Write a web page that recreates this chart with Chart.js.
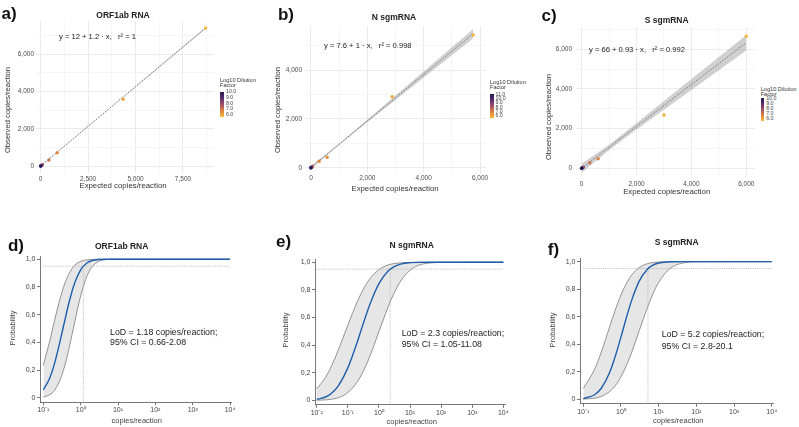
<!DOCTYPE html>
<html>
<head>
<meta charset="utf-8">
<script src="https://cdn.jsdelivr.net/npm/chart.js@4.4.1/dist/chart.umd.min.js"></script>
<style>
  body { margin: 0; background: #fff; }
  #wrap { position: relative; width: 799px; height: 427px; overflow: hidden;
          font-family: "Liberation Sans", Arial, sans-serif; color: #222; }
  canvas { position: absolute; }
  .t { position: absolute; white-space: pre; line-height: 1; }
</style>
</head>
<body>
<div id="wrap"></div>
<script>
// ---- calibration panels (a-c): expected vs observed copies/reaction ----
const expA = [8700, 4350, 870, 435, 87, 43.5, 8.7, 4.35, 0.87];
const obsA = [7417, 3583, 711, 321, 70, 35, 8, 4, 1];
const dilA = [6.0, 6.3, 7.0, 7.3, 8.0, 8.3, 9.0, 9.3, 10.0];
const fitXA = [0, 1000, 2500, 4000, 5500, 7000, 8700];
const fitYA = [5, 857, 2135, 3413, 4691, 5969, 7417];
const hiA   = [20, 867, 2147, 3431, 4717, 6003, 7459];
const loA   = [-10, 847, 2123, 3395, 4665, 5935, 7375];

const expB = [5760, 2880, 576, 288, 57.6, 28.8, 5.76, 2.88, 0.576, 0.0576];
const obsB = [5439, 2910, 426, 262, 62, 30, 6, 3, 1, 0];
const dilB = [6.0, 6.3, 7.0, 7.3, 8.0, 8.3, 9.0, 9.3, 10.0, 11.0];
const fitXB = [0, 1000, 2000, 3000, 4000, 5000, 5760];
const fitYB = [8, 961, 1914, 2867, 3820, 4773, 5497];
const hiB   = [58, 996, 1969, 2957, 3945, 4933, 5687];
const loB   = [-42, 926, 1859, 2777, 3695, 4613, 5307];

const expC = [6000, 3000, 600, 300, 60, 30, 6, 3, 0.6];
const obsC = [6650, 2685, 484, 282, 55, 28, 6, 3, 1];
const dilC = [6.0, 6.3, 7.0, 7.3, 8.0, 8.3, 9.0, 9.3, 10.0];
const fitXC = [0, 1000, 2000, 3000, 4000, 5000, 6000];
const fitYC = [0, 1055, 2110, 3165, 4220, 5275, 6330];
const hiC   = [230, 1185, 2270, 3385, 4500, 5610, 6720];
const loC   = [-230, 925, 1950, 2945, 3940, 4940, 5940];

// tick / grid values
const xMajorA = [0, 2500, 5000, 7500];
const xGridA  = [0, 1250, 2500, 3750, 5000, 6250, 7500, 8750];
const yMajorA = [0, 2000, 4000, 6000];
const yGridA  = [0, 1000, 2000, 3000, 4000, 5000, 6000, 7000];
const xMajorB = [0, 2000, 4000, 6000];
const xGridB  = [0, 1000, 2000, 3000, 4000, 5000, 6000];
const yMajorB = [0, 2000, 4000];
const yGridB  = [0, 1000, 2000, 3000, 4000, 5000];
const xMajorC = [0, 2000, 4000, 6000];
const xGridC  = [0, 1000, 2000, 3000, 4000, 5000, 6000];
const yMajorC = [0, 2000, 4000, 6000];
const yGridC  = [0, 1000, 2000, 3000, 4000, 5000, 6000, 7000];

// ---- LoD probit panels (d-f) ----
const xD  = [0.1, 0.15, 0.2, 0.3, 0.4, 0.5, 0.7, 1, 1.5, 2, 3, 5, 10, 100, 1000, 10000];
const pD  = [0.056, 0.145, 0.248, 0.441, 0.590, 0.699, 0.832, 0.924, 0.975, 0.990, 0.998, 1, 1, 1, 1, 1];
const hiD = [0.234, 0.414, 0.558, 0.743, 0.845, 0.902, 0.957, 0.985, 0.996, 0.999, 1, 1, 1, 1, 1, 1];
const loD = [0.005, 0.022, 0.054, 0.148, 0.259, 0.368, 0.552, 0.735, 0.883, 0.944, 0.984, 0.998, 1, 1, 1, 1];

const xE  = [0.01, 0.02, 0.03, 0.05, 0.1, 0.2, 0.3, 0.5, 1, 2, 3, 5, 10, 20, 50, 100, 1000, 10000];
const pE  = [0.007, 0.026, 0.051, 0.107, 0.235, 0.421, 0.543, 0.689, 0.845, 0.938, 0.967, 0.987, 0.997, 0.9995, 1, 1, 1, 1];
const hiE = [0.082, 0.174, 0.25, 0.367, 0.544, 0.713, 0.796, 0.877, 0.947, 0.981, 0.990, 0.996, 0.999, 1, 1, 1, 1, 1];
const loE = [0.001, 0.0035, 0.008, 0.019, 0.056, 0.133, 0.202, 0.314, 0.497, 0.68, 0.772, 0.864, 0.942, 0.980, 0.996, 0.999, 1, 1];

const xF  = [0.1, 0.2, 0.3, 0.5, 0.7, 1, 1.5, 2, 3, 5, 7, 10, 20, 50, 100, 1000, 10000];
const pF  = [0.005, 0.033, 0.080, 0.195, 0.309, 0.453, 0.624, 0.733, 0.855, 0.945, 0.975, 0.990, 0.999, 1, 1, 1, 1];
const hiF = [0.079, 0.219, 0.343, 0.526, 0.646, 0.758, 0.858, 0.909, 0.956, 0.985, 0.9935, 0.9975, 1, 1, 1, 1, 1];
const loF = [0.001, 0.008, 0.021, 0.056, 0.097, 0.163, 0.265, 0.353, 0.492, 0.665, 0.765, 0.849, 0.950, 0.993, 0.999, 1, 1];

const lodD = 1.18, lodE = 2.3, lodF = 5.2;
const probTicks = [0, 0.2, 0.4, 0.6, 0.8, 1.0];
const decadesD = [0.1, 1, 10, 100, 1000, 10000];
const decadesE = [0.01, 0.1, 1, 10, 100, 1000, 10000];

// colour scale for log10 dilution (yellow -> dark purple)
const palette = ['#f6b93b', '#dd8440', '#a35068', '#5c2e70', '#221a55'];

Chart.defaults.font.family = '"Liberation Sans", Arial, sans-serif';
const wrap = document.getElementById('wrap');

function hexRgb(h) {
  return [1, 3, 5].map(i => parseInt(h.substr(i, 2), 16));
}
function dilColor(v, lo, hi) {
  const t = Math.max(0, Math.min(1, (v - lo) / (hi - lo))) * (palette.length - 1);
  const i = Math.min(Math.floor(t), palette.length - 2);
  const f = t - i;
  const a = hexRgb(palette[i]), b = hexRgb(palette[i + 1]);
  const c = a.map((x, k) => Math.round(x + (b[k] - x) * f));
  return `rgb(${c[0]},${c[1]},${c[2]})`;
}

function addCanvas(left, top, w, h) {
  const c = document.createElement('canvas');
  c.width = w; c.height = h;
  c.style.left = left + 'px'; c.style.top = top + 'px';
  c.style.width = w + 'px'; c.style.height = h + 'px';
  wrap.appendChild(c);
  return c;
}

// text helper: align 'c' = centred on (x,y), 'l' = left edge at x, centred on y
function addText(txt, x, y, size, opts = {}) {
  const d = document.createElement('div');
  d.className = 't';
  d.textContent = txt;
  d.style.left = x + 'px';
  d.style.top = y + 'px';
  d.style.fontSize = size + 'px';
  if (opts.bold) d.style.fontWeight = 'bold';
  d.style.color = opts.color || '#222';
  let tf = opts.align === 'l' ? 'translate(0,-50%)' : 'translate(-50%,-50%)';
  if (opts.rot) tf += ' rotate(-90deg)';
  d.style.transform = tf;
  wrap.appendChild(d);
}

function colorBar(x, y, w, h, lo, hi, labels, titleY) {
  addText('Log10 Dilution', x, titleY, 5.6, { align: 'l', color: '#333' });
  addText('Factor', x, titleY + 5, 5.6, { align: 'l', color: '#333' });
  const bar = document.createElement('div');
  bar.style.cssText = `position:absolute;left:${x}px;top:${y}px;width:${w}px;height:${h}px;` +
    `background:linear-gradient(to bottom, ${palette.slice().reverse().join(',')});`;
  wrap.appendChild(bar);
  labels.forEach(v => {
    const ly = y + 0.6 + (hi - v) / (hi - lo) * (h - 2.5);
    addText(v.toFixed(1), x + w + 2, ly, 5.2, { align: 'l', color: '#444' });
  });
}

function calibPanel(p) {
  const c = addCanvas(p.left, p.top, p.w, p.h);
  const pts = p.exp.map((x, i) => ({ x, y: p.obs[i] }));
  const line = ys => p.fitX.map((x, i) => ({ x, y: ys[i] }));
  const gridCol = majors => ctx => (ctx.tick && majors.includes(ctx.tick.value)) ? '#e3e3e3' : '#f1f1f1';
  new Chart(c, {
    type: 'scatter',
    data: {
      datasets: [
        { data: pts, pointRadius: 1.7, pointBorderWidth: 0,
          pointBackgroundColor: p.dil.map(v => dilColor(v, p.dilLo, p.dilHi)) },
        { data: line(p.fitY), showLine: true, pointRadius: 0, borderColor: '#6a6a6a',
          borderWidth: 0.9, borderDash: [1.5, 1.5] },
        { data: line(p.hi), showLine: true, pointRadius: 0, borderWidth: 0,
          fill: '+1', backgroundColor: 'rgba(150,150,150,0.45)' },
        { data: line(p.lo), showLine: true, pointRadius: 0, borderWidth: 0 }
      ]
    },
    options: {
      responsive: false,
      animation: false,
      layout: { padding: { top: p.padTop, right: p.padRight, left: 0, bottom: 0 } },
      plugins: { legend: { display: false }, tooltip: { enabled: false },
                 filler: { drawTime: 'beforeDatasetsDraw' } },
      scales: {
        x: {
          type: 'linear', min: p.xMin, max: p.xMax,
          afterBuildTicks: s => { s.ticks = p.xGrid.map(v => ({ value: v })); },
          afterFit: s => { s.height = p.xAxisH; },
          ticks: { autoSkip: false, maxRotation: 0, padding: p.xPad, color: '#4d4d4d',
                   font: { size: 6.5 },
                   callback: v => p.xMajor.includes(v) ? v.toLocaleString('en-US') : '' },
          grid: { drawTicks: false, color: gridCol(p.xMajor), lineWidth: 0.7 },
          border: { display: false }
        },
        y: {
          type: 'linear', min: p.yMin, max: p.yMax,
          afterBuildTicks: s => { s.ticks = p.yGrid.map(v => ({ value: v })); },
          afterFit: s => { s.width = p.yAxisW; },
          ticks: { autoSkip: false, padding: p.yPad, color: '#4d4d4d', font: { size: 6.5 },
                   callback: v => p.yMajor.includes(v) ? v.toLocaleString('en-US') : '' },
          grid: { drawTicks: false, color: gridCol(p.yMajor), lineWidth: 0.7 },
          border: { display: false }
        }
      }
    }
  });
}

const supMap = { '-': '\u207B', '0': '\u2070', '1': '\u00B9', '2': '\u00B2', '3': '\u00B3', '4': '\u2074' };
function decadeLabel(v) {
  const e = String(Math.round(Math.log10(v)));
  return '10' + e.split('').map(ch => supMap[ch]).join('');
}

function lodPanel(p) {
  const c = addCanvas(p.left, p.top, p.w, p.h);
  const xy = ys => p.x.map((x, i) => ({ x, y: ys[i] }));
  new Chart(c, {
    type: 'scatter',
    data: {
      datasets: [
        { data: xy(p.p), showLine: true, pointRadius: 0, borderColor: '#1f5eaa',
          borderWidth: 1.4, cubicInterpolationMode: 'monotone' },
        { data: [{ x: p.x[0], y: 0.95 }, { x: 10000, y: 0.95 }], showLine: true, pointRadius: 0,
          borderColor: '#a8a8a8', borderWidth: 0.8, borderDash: [1, 1.2] },
        { data: [{ x: p.lod, y: 0.95 }, { x: p.lod, y: p.yMin }], showLine: true, pointRadius: 0,
          borderColor: '#a8a8a8', borderWidth: 0.8, borderDash: [1, 1.2] },
        { data: xy(p.hi), showLine: true, pointRadius: 0, borderColor: '#7a7a7a',
          borderWidth: 0.8, cubicInterpolationMode: 'monotone',
          fill: '+1', backgroundColor: '#e6e6e6' },
        { data: xy(p.lo), showLine: true, pointRadius: 0, borderColor: '#7a7a7a',
          borderWidth: 0.8, cubicInterpolationMode: 'monotone' }
      ]
    },
    options: {
      responsive: false,
      animation: false,
      layout: { padding: { top: p.padTop, right: p.padRight, left: 0, bottom: 0 } },
      plugins: { legend: { display: false }, tooltip: { enabled: false },
                 filler: { drawTime: 'beforeDatasetsDraw' } },
      scales: {
        x: {
          type: 'logarithmic', min: p.xMin, max: p.xMax,
          afterBuildTicks: s => { s.ticks = p.decades.map(v => ({ value: v })); },
          afterFit: s => { s.height = p.xAxisH; },
          ticks: { autoSkip: false, maxRotation: 0, padding: 1, color: '#444',
                   font: { size: 7 }, callback: v => decadeLabel(v) },
          grid: { drawOnChartArea: false, drawTicks: true, tickLength: 3, color: '#555', lineWidth: 0.8 },
          border: { display: true, color: '#555', width: 0.8 }
        },
        y: {
          type: 'linear', min: p.yMin, max: 1.02,
          afterBuildTicks: s => { s.ticks = probTicks.map(v => ({ value: v })); },
          afterFit: s => { s.width = p.yAxisW; },
          ticks: { autoSkip: false, padding: 1.5, color: '#444', font: { size: 7 },
                   callback: v => v === 0 ? '0' : v.toFixed(1).replace('.', ',') },
          grid: { drawOnChartArea: false, drawTicks: true, tickLength: 3, color: '#555', lineWidth: 0.8 },
          border: { display: true, color: '#555', width: 0.8 }
        }
      }
    }
  });
}

// ---- top row ----
calibPanel({ left: 0, top: 0, w: 218, h: 185, padTop: 21, padRight: 3, yAxisW: 36, xAxisH: 12,
  xPad: 2, yPad: 2, xMin: -246, xMax: 9135, yMin: -376, yMax: 7789,
  exp: expA, obs: obsA, dil: dilA, dilLo: 6, dilHi: 10, fitX: fitXA, fitY: fitYA, hi: hiA, lo: loA,
  xMajor: xMajorA, xGrid: xGridA, yMajor: yMajorA, yGrid: yGridA });
calibPanel({ left: 265, top: 0, w: 225, h: 185, padTop: 26, padRight: 2, yAxisW: 40, xAxisH: 12,
  xPad: 1, yPad: 3, xMin: -211, xMax: 6211, yMin: -217, yMax: 5807,
  exp: expB, obs: obsB, dil: dilB, dilLo: 6, dilHi: 11, fitX: fitXB, fitY: fitYB, hi: hiB, lo: loB,
  xMajor: xMajorB, xGrid: xGridB, yMajor: yMajorB, yGrid: yGridB });
calibPanel({ left: 530, top: 0, w: 229, h: 190, padTop: 27, padRight: 2, yAxisW: 47, xAxisH: 14,
  xPad: 4, yPad: 5, xMin: -169, xMax: 6317, yMin: -388, yMax: 7118,
  exp: expC, obs: obsC, dil: dilC, dilLo: 6, dilHi: 10, fitX: fitXC, fitY: fitYC, hi: hiC, lo: loC,
  xMajor: xMajorC, xGrid: xGridC, yMajor: yMajorC, yGrid: yGridC });

// ---- bottom row ----
lodPanel({ left: 0, top: 245, w: 240, h: 182, padTop: 11.5, padRight: 9, yAxisW: 40, xAxisH: 24.7,
  xMin: 0.0816, xMax: 10600, yMin: -0.033, x: xD, p: pD, hi: hiD, lo: loD, lod: lodD, decades: decadesD });
lodPanel({ left: 265, top: 245, w: 245, h: 182, padTop: 14.5, padRight: 5, yAxisW: 50, xAxisH: 22.1,
  xMin: 0.0088, xMax: 11300, yMin: -0.033, x: xE, p: pE, hi: hiE, lo: loE, lod: lodE, decades: decadesE });
lodPanel({ left: 530, top: 245, w: 269, h: 182, padTop: 13.9, padRight: 26, yAxisW: 50, xAxisH: 23.2,
  xMin: 0.0818, xMax: 10800, yMin: -0.033, x: xF, p: pF, hi: hiF, lo: loF, lod: lodF, decades: decadesD });

// ---- labels ----
addText('a)', 9, 12.5, 17, { bold: true, color: '#111' });
addText('b)', 286, 13.5, 17, { bold: true, color: '#111' });
addText('c)', 549, 15, 17, { bold: true, color: '#111' });
addText('d)', 16, 244.5, 17, { bold: true, color: '#111' });
addText('e)', 283.5, 240.5, 17, { bold: true, color: '#111' });
addText('f)', 553.5, 248.5, 17, { bold: true, color: '#111' });

addText('ORF1ab RNA', 123, 15, 8.5, { bold: true });
addText('N sgmRNA', 394, 17.3, 8.5, { bold: true });
addText('S sgmRNA', 666.7, 20, 8.5, { bold: true });
addText('ORF1ab RNA', 121.7, 246, 8.5, { bold: true });
addText('N sgmRNA', 411.7, 245, 8.5, { bold: true });
addText('S sgmRNA', 676.7, 241.7, 8.5, { bold: true });

addText('y = 12 + 1.2 \u00B7 x,   r\u00B2 = 1', 59, 36.7, 7.6, { align: 'l' });
addText('y = 7.6 + 1 \u00B7 x,   r\u00B2 = 0.998', 324, 46, 7.6, { align: 'l' });
addText('y = 66 + 0.93 \u00B7 x,   r\u00B2 = 0.992', 589, 50, 7.6, { align: 'l' });

addText('Observed copies/reaction', 8, 110, 7.6, { rot: true, color: '#333' });
addText('Observed copies/reaction', 278, 110, 7.6, { rot: true, color: '#333' });
addText('Observed copies/reaction', 549.3, 116.7, 7.6, { rot: true, color: '#333' });
addText('Expected copies/reaction', 123, 186, 7.8, { color: '#333' });
addText('Expected copies/reaction', 395, 189, 7.8, { color: '#333' });
addText('Expected copies/reaction', 666.7, 192.3, 7.8, { color: '#333' });

colorBar(220, 91.7, 4, 25, 6, 10, [10, 9, 8, 7, 6], 81);
colorBar(490, 94, 3.5, 24, 6, 11, [11, 10, 9, 8, 7, 6], 83.3);
colorBar(760.7, 98.3, 3.5, 22.4, 6, 10, [10, 9, 8, 7, 6], 90.3);

addText('Probability', 13.3, 328, 7.5, { rot: true, color: '#444' });
addText('Probability', 285.7, 330, 7.5, { rot: true, color: '#444' });
addText('Probability', 553.3, 330, 7.5, { rot: true, color: '#444' });
addText('copies/reaction', 136.7, 420.7, 7.5, { color: '#444' });
addText('copies/reaction', 411.7, 422, 7.5, { color: '#444' });
addText('copies/reaction', 678.3, 420.7, 7.5, { color: '#444' });

addText('LoD = 1.18 copies/reaction;', 110, 331.7, 8.8, { align: 'l' });
addText('95% CI = 0.66-2.08', 110, 342.3, 8.8, { align: 'l' });
addText('LoD = 2.3 copies/reaction;', 401.7, 332.7, 8.8, { align: 'l' });
addText('95% CI = 1.05-11.08', 401.7, 344, 8.8, { align: 'l' });
addText('LoD = 5.2 copies/reaction;', 661.7, 334.3, 8.8, { align: 'l' });
addText('95% CI = 2.8-20.1', 661.7, 346, 8.8, { align: 'l' });
</script>
</body>
</html>
